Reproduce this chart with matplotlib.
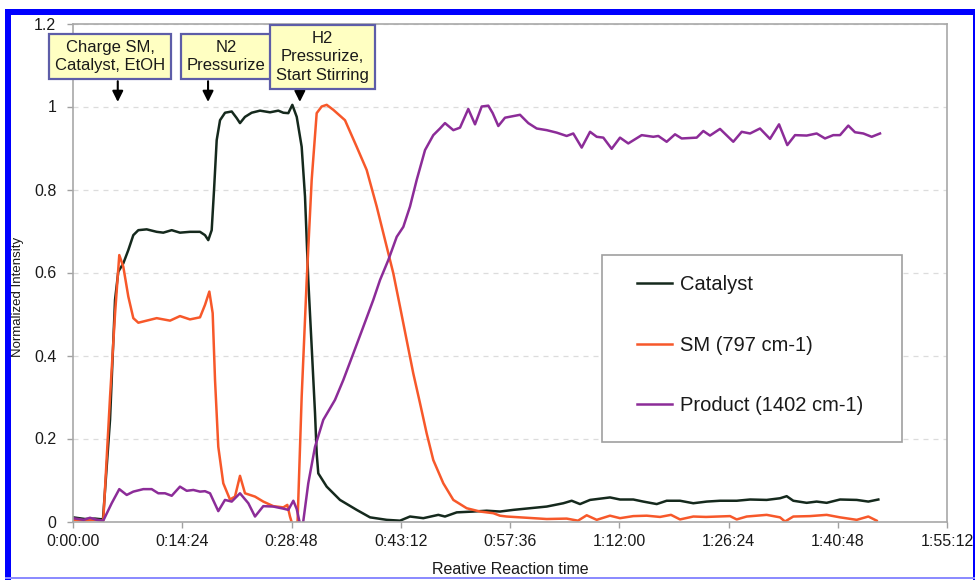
import matplotlib
matplotlib.use('Agg')
import matplotlib.pyplot as plt
from matplotlib.patches import Rectangle
from matplotlib.lines import Line2D
from matplotlib.ticker import FuncFormatter

plt.rcParams['font.family'] = ['Liberation Sans', 'DejaVu Sans']

# relative reaction time in minutes, normalized intensity
cat_t = [0.0, 1.58, 2.90, 3.95, 4.88, 5.54, 5.97, 6.63, 7.29, 7.95, 8.61, 9.71, 11.03, 11.90,
         13.01, 14.10, 15.42, 16.74, 17.40, 17.83, 18.28, 18.59, 18.94, 19.38, 20.04, 20.92,
         21.58, 22.01, 22.67, 23.55, 24.65, 25.97, 27.06, 27.72, 28.38, 28.91, 29.49, 30.14,
         30.58, 31.01, 31.46, 31.90, 32.12, 32.33, 33.44, 35.19, 37.39, 39.15, 41.35, 43.10,
         44.42, 46.17, 48.15, 49.03, 50.58, 52.76, 54.53, 56.28, 58.04, 60.24, 62.44, 64.63,
         65.73, 66.83, 68.15, 70.78, 72.10, 73.85, 75.17, 76.94, 78.25, 80.01, 81.76, 83.53,
         85.28, 87.48, 89.24, 91.43, 93.19, 94.07, 94.94, 96.70, 98.02, 99.34, 101.10, 103.30,
         104.83, 106.15]
cat_v = [0.010, 0.006, 0.007, 0.005, 0.245, 0.534, 0.602, 0.622, 0.654, 0.690, 0.702, 0.704,
         0.698, 0.696, 0.702, 0.696, 0.698, 0.698, 0.690, 0.678, 0.702, 0.799, 0.919, 0.967,
         0.985, 0.988, 0.972, 0.960, 0.975, 0.985, 0.990, 0.986, 0.990, 0.985, 0.984, 1.004,
         0.975, 0.903, 0.783, 0.582, 0.421, 0.261, 0.164, 0.116, 0.084, 0.052, 0.028, 0.010,
         0.004, 0.002, 0.012, 0.008, 0.016, 0.012, 0.022, 0.024, 0.026, 0.024, 0.028, 0.032,
         0.036, 0.044, 0.050, 0.042, 0.052, 0.058, 0.053, 0.053, 0.048, 0.042, 0.050, 0.050,
         0.044, 0.048, 0.050, 0.050, 0.053, 0.052, 0.056, 0.061, 0.050, 0.045, 0.048, 0.045,
         0.053, 0.052, 0.048, 0.053]

sm_t = [0.0, 1.58, 2.90, 3.99, 4.88, 5.54, 6.10, 6.63, 7.29, 7.95, 8.61, 9.71, 11.03, 12.79,
        14.10, 15.42, 16.74, 17.40, 17.97, 18.41, 18.72, 19.15, 19.81, 20.69, 21.35, 22.01,
        22.67, 23.99, 25.08, 26.40, 27.72, 28.25, 28.60, 28.96, 29.60, 30.14, 30.80, 31.46,
        32.12, 32.78, 33.44, 34.31, 35.85, 37.39, 38.71, 40.03, 41.35, 42.22, 43.10, 43.98,
        44.85, 45.74, 46.62, 47.49, 48.81, 50.13, 51.89, 53.65, 55.40, 56.28, 57.16, 59.80,
        62.44, 65.07, 66.56, 67.71, 69.03, 70.78, 72.10, 73.85, 75.62, 77.37, 78.82, 80.01,
        81.76, 83.44, 86.60, 87.48, 88.80, 91.43, 93.19, 93.85, 94.94, 97.14, 99.34, 101.10,
        103.30, 104.83, 105.93]
sm_v = [0.004, 0.003, 0.004, 0.002, 0.300, 0.500, 0.642, 0.614, 0.542, 0.490, 0.479, 0.484,
        0.490, 0.484, 0.495, 0.487, 0.492, 0.522, 0.554, 0.502, 0.341, 0.180, 0.092, 0.053,
        0.060, 0.110, 0.068, 0.060, 0.048, 0.037, 0.034, 0.040, 0.012, -0.010, 0.000, 0.300,
        0.580, 0.823, 0.984, 1.000, 1.004, 0.992, 0.967, 0.903, 0.847, 0.759, 0.662, 0.598,
        0.518, 0.437, 0.357, 0.285, 0.212, 0.148, 0.092, 0.052, 0.032, 0.024, 0.020, 0.014,
        0.012, 0.009, 0.006, 0.007, 0.002, 0.015, 0.004, 0.014, 0.008, 0.013, 0.014, 0.011,
        0.016, 0.005, 0.012, 0.011, 0.013, 0.005, 0.012, 0.016, 0.010, 0.000, 0.012, 0.013,
        0.016, 0.010, 0.004, 0.012, 0.002]

prod_t = [0.0, 1.40, 2.24, 3.12, 3.99, 5.10, 6.10, 7.08, 7.95, 9.27, 10.37, 11.24, 12.13,
          13.01, 14.10, 14.99, 15.86, 16.74, 17.40, 18.06, 19.15, 20.03, 20.92, 22.01, 23.11,
          23.99, 25.08, 26.40, 27.72, 28.38, 29.04, 29.49, 29.92, 30.32, 31.01, 31.90, 32.99,
          34.53, 35.63, 36.95, 38.26, 39.58, 40.47, 41.56, 42.67, 43.54, 44.42, 45.30, 46.40,
          47.49, 48.37, 49.03, 50.13, 51.01, 52.10, 52.99, 53.87, 54.74, 55.32, 56.06, 56.94,
          58.92, 60.01, 61.12, 62.44, 63.76, 65.07, 65.94, 67.05, 68.15, 69.03, 69.90, 71.00,
          72.10, 73.19, 74.96, 76.49, 77.15, 78.25, 79.35, 80.23, 82.21, 83.08, 83.96, 85.28,
          87.03, 88.14, 89.24, 90.55, 91.87, 93.06, 94.15, 95.17, 96.71, 98.02, 99.12, 100.21,
          101.10, 102.19, 103.07, 104.17, 105.27, 106.37]
prod_v = [0.008, 0.004, 0.009, 0.004, 0.002, 0.044, 0.078, 0.064, 0.072, 0.078, 0.078, 0.068,
          0.068, 0.062, 0.084, 0.074, 0.076, 0.072, 0.073, 0.068, 0.025, 0.052, 0.048, 0.068,
          0.044, 0.012, 0.037, 0.036, 0.031, 0.028, 0.050, 0.030, -0.006, -0.004, 0.092, 0.180,
          0.245, 0.293, 0.341, 0.405, 0.469, 0.534, 0.582, 0.630, 0.686, 0.710, 0.759, 0.823,
          0.895, 0.931, 0.947, 0.960, 0.943, 0.949, 0.994, 0.957, 1.000, 1.002, 0.984, 0.953,
          0.973, 0.980, 0.960, 0.947, 0.943, 0.937, 0.929, 0.935, 0.901, 0.939, 0.927, 0.925,
          0.898, 0.925, 0.911, 0.931, 0.927, 0.929, 0.915, 0.933, 0.923, 0.925, 0.941, 0.930,
          0.946, 0.915, 0.939, 0.935, 0.947, 0.922, 0.957, 0.907, 0.931, 0.930, 0.935, 0.923,
          0.931, 0.931, 0.954, 0.938, 0.935, 0.927, 0.935]

series_names = ['Catalyst', 'SM (797 cm-1)', 'Product (1402 cm-1)']
series_colors = ['#15291d', '#f7582a', '#8c2c98']

event_texts = ['Charge SM,\nCatalyst, EtOH', 'N2\nPressurize', 'H2\nPressurize,\nStart Stirring']
event_times = [5.9, 17.8, 29.9]
box_centers = [4.9, 20.2, 32.9]

x_ticks = [0, 14.4, 28.8, 43.2, 57.6, 72.0, 86.4, 100.8, 115.2]
y_ticks = [0, 0.2, 0.4, 0.6, 0.8, 1.0, 1.2]


def hms(m, pos=None):
    s = int(round(m * 60))
    return '%d:%02d:%02d' % (s // 3600, (s % 3600) // 60, s % 60)


fig = plt.figure(figsize=(9.75, 5.8), dpi=100)
ax = fig.add_axes([73/975, 1 - 521.5/580, 874/975, 498/580])

for t, v, c, name in zip([cat_t, sm_t, prod_t], [cat_v, sm_v, prod_v], series_colors, series_names):
    ax.plot(t, v, color=c, lw=1.8, label=name, solid_joinstyle='round')

ax.set_xlim(0, 115.2)
ax.set_ylim(0, 1.2)
ax.set_xticks(x_ticks)
ax.set_yticks(y_ticks)
ax.xaxis.set_major_formatter(FuncFormatter(hms))
ax.yaxis.set_major_formatter(FuncFormatter(lambda v, p: '%g' % v))
ax.tick_params(axis='both', labelsize=11.5, colors='#a0a0a0', labelcolor='#1a1a1a',
               length=4, width=1, direction='out')
ax.tick_params(axis='x', pad=5)
ax.tick_params(axis='y', pad=8)
for sp in ax.spines.values():
    sp.set_color('#a8a8a8')
    sp.set_linewidth(1.2)
ax.yaxis.grid(True, ls=(0, (4, 4)), color='#dcdcdc', lw=0.9)
ax.set_axisbelow(True)

ax.set_ylabel('Normalized Intensity', fontsize=9.5, color='#1a1a1a')
ax.yaxis.label.set_va('center')
ax.yaxis.set_label_coords(-0.0629, 0.45)
ax.set_xlabel('Reative Reaction time', fontsize=11.5, color='#1a1a1a', va='baseline')
ax.xaxis.set_label_coords(0.5, -0.1055)

# event call-outs
for i, (txt, tc, te) in enumerate(zip(event_texts, box_centers, event_times)):
    ax.text(tc, 1.12, txt, ha='center', va='center', fontsize=12, color='#1a1a1a',
            linespacing=1.3, clip_on=False, zorder=10 + i,
            bbox=dict(boxstyle='square,pad=0.36', fc='#ffffc2', ec='#5d5da8', lw=1.6))
    top = 1.035 if i == 2 else 1.061
    ax.annotate('', xy=(te, 1.011), xytext=(te, top), annotation_clip=False, zorder=9,
                arrowprops=dict(arrowstyle='-|>', color='black', lw=1.5,
                                mutation_scale=16, shrinkA=0, shrinkB=0))

# legend
ax.add_patch(Rectangle((0.6053, 0.1596), 0.3432, 0.3755, transform=ax.transAxes,
                       fc='white', ec='#a0a0a0', lw=1.2, zorder=20))
handles = [Line2D([], [], color=c, lw=1.8) for c in series_colors]
leg = ax.legend(handles, series_names, loc='upper left', bbox_to_anchor=(0.6453, 0.494),
                frameon=False, borderpad=0, borderaxespad=0, handlelength=1.75,
                handletextpad=0.4, labelspacing=2.05, fontsize=14.5)
leg.set_zorder(21)
for t in leg.get_texts():
    t.set_color('#1a1a1a')

# blue frame around the figure
for x0, y0, w, h, c in [(5, 9, 970, 6, '#0000ff'), (5, 9, 6, 571, '#0000ff'),
                         (972.5, 9, 2.5, 571, '#0000ff'), (5, 577, 970, 2, '#8c8cff')]:
    fig.add_artist(Rectangle((x0/975, 1 - (y0 + h)/580), w/975, h/580,
                             transform=fig.transFigure, fc=c, ec='none'))

fig.savefig('out.png', dpi=100)
